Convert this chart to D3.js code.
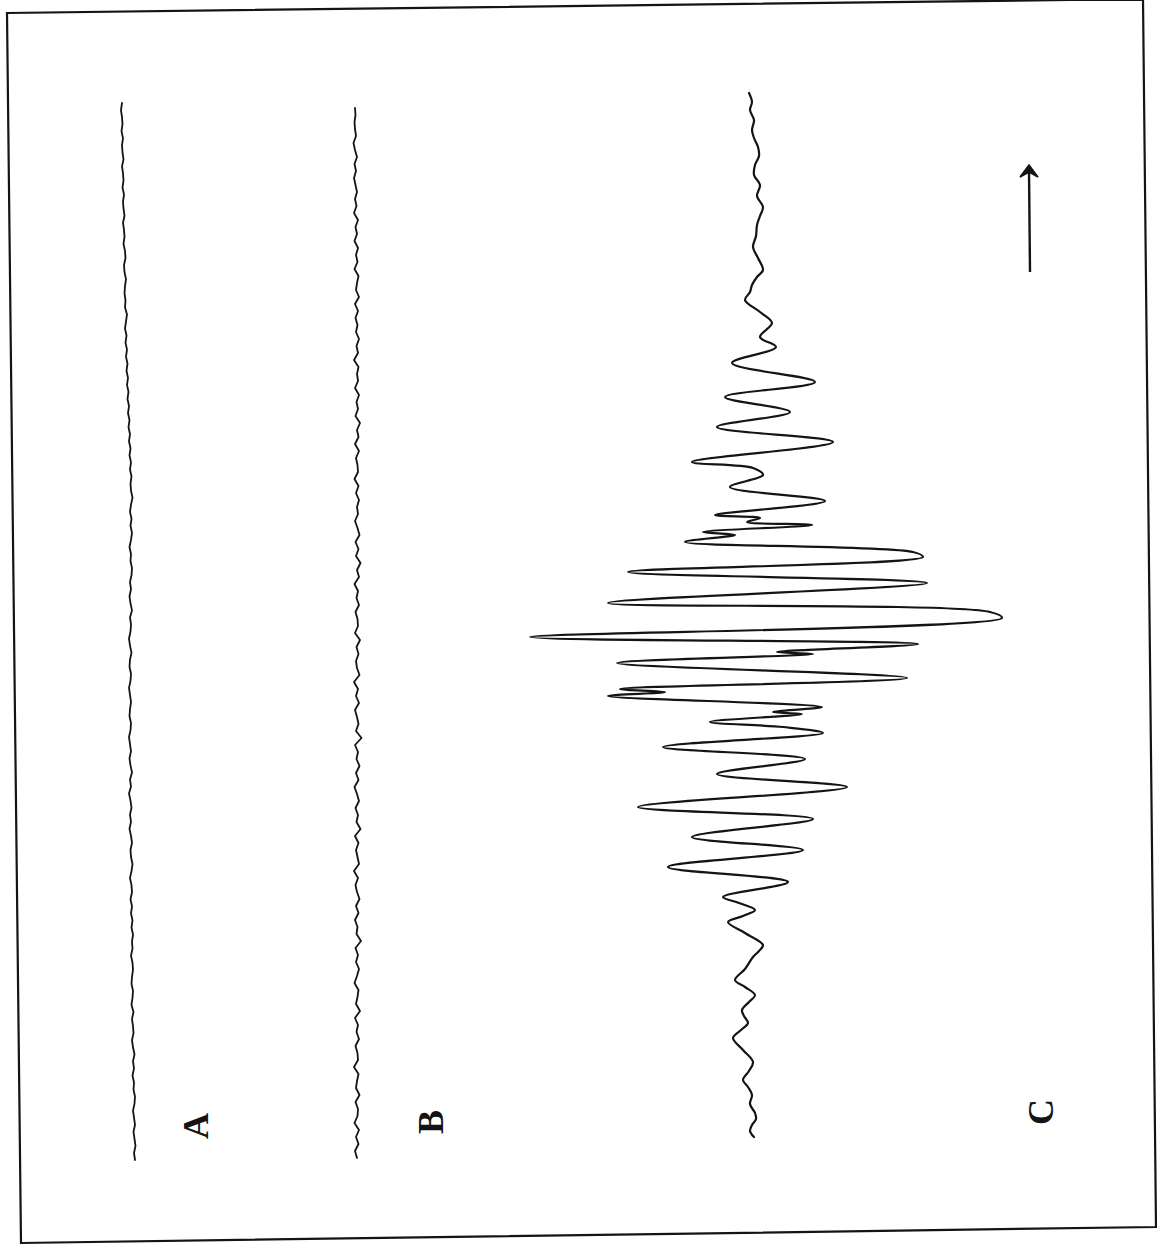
<!DOCTYPE html>
<html>
<head>
<meta charset="utf-8">
<script src="https://cdn.jsdelivr.net/npm/d3@7"></script>
<style>
  html, body { margin: 0; padding: 0; background: #ffffff; }
  svg { display: block; }
</style>
</head>
<body>
<svg id="chart" width="1157" height="1250"></svg>
<script>
// ---------------- DATA ----------------
const traceLabels = ["A", "B", "C"];

// Trace A: baseline noise samples (bottom -> top), amplitude units
const aValues = [
  7, 6, 7.5, 6.5, 5.5, 7, 6, 5, 6.5, 7, 5.5, 6, 4.5, 6, 5, 6.5, 5, 4, 5.5,
  5, 4, 5.5, 3.5, 4.5, 5, 3.5, 4, 5, 4.5, 3, 4.5, 4, 5,
  3.5, 4.5, 3, 4, 2.5, 4, 3.5, 2, 3.5, 4.5, 3, 2.5, 4, 3, 1.5, 3, 2, 3.5, 2.5, 1, 3, 2, 4, 2.5, 1.5, 3, 2, 1, 2.5, 3, 1.5, 2, 3,
  2, 1, 2.5, 3, 1.5, 2, 3.5, 2, 1, 2.5, 3, 2, 4, 2.5, 1.5, 3, 2, 3.5, 4, 2.5, 3, 1.5, 3, 4, 2.5, 3.5, 2, 3, 4.5, 3, 2.5,
  3.5, 2, 3, 1.5, 2.5, 1, 2, 0.5, 1.5, 0, 1, -0.5, 0.5, -1, 0, -1.5, -0.5, -2, -1, -2.5, -1.5, -3, -2, -1, -3, -2.5, -3.5,
  -3, -2, -3.5, -4, -2.5, -3, -4.5, -3.5, -4, -5, -3.5, -4.5, -5, -4, -5.5, -4.5, -5, -6, -4.5, -5.5, -6, -5, -6.5, -5.5, -6, -7, -6
];

// Trace B: baseline noise samples (bottom -> top)
const bValues = [
  0, -2, 1.5, -1, 2, -2.5, 0.5, 1, -1.5, 2.5, -1, 0, 1.5, -3, 1, 0.5, -1.5, 2, -0.5, 1,
  -2, 3, -1, 0.5, 1.5, -2.5, 0, 2, -1, 1, -1.5, 4, -0.5, 0.5, -2, 1.5, -1, 2.5, 0, -1.5,
  1, -3, 2, 0.5, -1, 1.5, -2, 3.5, -0.5, 1, -1.5, 2, 0, -2.5, 1.5, -1, 2.5, -0.5, 1, -2,
  4.5, -1, 1.5, 0, -2, 2, -1, 1, -3, 2.5, 0, -1, 1.5, -0.5, 3, -2, 1, 0.5, -1.5, 2,
  -0.5, 1, -2.5, 2, 0, 3.5, -1, 1.5, -1.5, 2.5, 0.5, -2, 1, 0, 2, -1, 1.5, -2.5, 1, 0.5,
  -1, 2, -2, 1.5, 0, 3, -1.5, 1, -0.5, 2, -2, 1, 0, 1.5, -3, 1, -0.5, 2, -1, 0.5,
  -1.5, 1, -2, 2, -1, 0, 1.5, -2.5, 0.5, -1, 1, -2.5, 0, -1.5, 1, -3, -0.5, -2, 0, -1.5,
  -3, -1, -2.5, 0, -2, -3.5, -1, -2, -2.5, -1.5, -2
];

// Trace C: recorded points (time, amplitude), bottom -> top
const cTimes = [
  28, 34, 40, 46, 52, 61, 70, 78, 85, 94, 103, 115, 127, 135, 142, 149, 155, 163, 170, 178,
  185, 196, 208, 214, 220, 232, 243, 249, 255, 262, 268, 283, 298, 315, 328, 346, 358, 378, 391, 406,
  418, 432, 438, 443, 451, 453, 458, 469, 473, 476, 487, 502, 511, 513, 521, 528, 547, 553, 562, 582,
  593, 608, 613, 623, 630, 633, 640, 643, 647, 650, 664, 678, 690, 697, 703, 723, 738, 753, 768, 783,
  802, 818, 828, 842, 853, 865, 873, 880, 888, 895, 907, 918, 929, 940, 949, 958, 969, 980, 990, 1000,
  1009, 1018, 1027, 1035, 1045, 1055, 1063, 1072
];
const cValues = [
  3, -1, 1, 5, 4, -1, 1, -3, -8, -2, 2, -8, -18, -10, -3, -7, -9, -2, 4, -6,
  -16, -6, 2, 8, 12, -6, -23, -8, 4, -12, -28, 37, -83, 52, -59, 62, -113, 96, -34, 54,
  -88, 72, 32, -41, 51, 22, 71, -143, -86, -131, 156, -134, 62, 26, 167, -221, 251, 239, -143, 176,
  -123, 172, 162, -66, -16, -48, 61, -4, 9, -36, 74, -21, 12, 2, -59, 82, -34, 39, -26, 64,
  -19, 25, 9, 21, 9, -6, -1, 1, 6, 12, 7, 2, 5, 6, 9, 12, 6, 9, 3, 4,
  8, 7, 3, 1, 3, -1, 1, -2
];

// ---------------- DRAWING ----------------
const svg = d3.select("#chart");
const ink = "#141414";

svg.append("rect").attr("width", 1157).attr("height", 1250).attr("fill", "#ffffff");

// scanned-frame border (slightly skewed)
svg.append("path")
  .attr("d", "M7,13 L1143,-1 L1156,1227 L21,1243 Z")
  .attr("fill", "none").attr("stroke", ink).attr("stroke-width", 2.2);

// time runs from bottom to top (figure rotated -90deg)
const timeScale = d3.scaleLinear().domain([0, 1100]).range([1165, 65]);
const ampScale = d3.scaleLinear().domain([-300, 300]).range([-300, 300]);

const baseX = { A: 128, B: 357, C: 751 };

function drawTrace(points, base, width, curve) {
  const line = d3.line()
    .x(d => base + ampScale(d.v))
    .y(d => timeScale(d.t))
    .curve(curve);
  svg.append("path")
    .datum(points)
    .attr("d", line)
    .attr("fill", "none")
    .attr("stroke", ink)
    .attr("stroke-width", width)
    .attr("stroke-linejoin", "round")
    .attr("stroke-linecap", "round");
}

// A and B: uniformly sampled, positioned by an index scale
const aIdx = d3.scaleLinear().domain([0, aValues.length - 1]).range([5, 1062]);
const bIdx = d3.scaleLinear().domain([0, bValues.length - 1]).range([7, 1057]);
drawTrace(aValues.map((v, i) => ({ t: aIdx(i), v })), baseX.A, 1.8, d3.curveLinear);
drawTrace(bValues.map((v, i) => ({ t: bIdx(i), v })), baseX.B, 1.8, d3.curveLinear);
drawTrace(cTimes.map((t, i) => ({ t, v: cValues[i] })), baseX.C, 2.2, d3.curveCatmullRom.alpha(0.5));

// Labels (rotated -90)
const labelPos = { A: [196, 1126], B: [431, 1122], C: [1041, 1112] };
traceLabels.forEach(l => {
  const [x, y] = labelPos[l];
  svg.append("text")
    .attr("transform", `translate(${x},${y}) rotate(-90)`)
    .attr("text-anchor", "middle")
    .attr("dominant-baseline", "central")
    .attr("font-family", "'Liberation Serif', 'DejaVu Serif', serif")
    .attr("font-weight", "bold")
    .attr("font-size", 36)
    .attr("fill", ink)
    .text(l);
});

// Direction arrow (time)
const arrowX = 1030;
svg.append("line")
  .attr("x1", arrowX).attr("y1", 272)
  .attr("x2", arrowX - 1).attr("y2", 170)
  .attr("stroke", ink).attr("stroke-width", 2.4);
svg.append("path")
  .attr("d", `M${arrowX - 1},165 L${arrowX - 10},177 L${arrowX - 1},172 L${arrowX + 8},177 Z`)
  .attr("fill", ink).attr("stroke", ink).attr("stroke-width", 1.5).attr("stroke-linejoin", "miter");
</script>
</body>
</html>
